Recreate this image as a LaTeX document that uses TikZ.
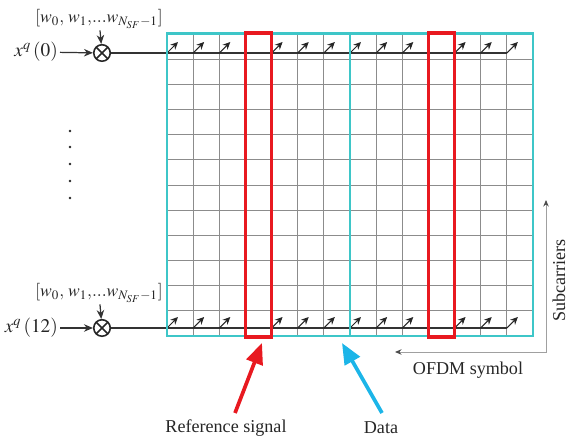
\documentclass[tikz,border=0pt]{standalone}
\usepackage{mathptmx}
\usepackage{fontspec}
\setmainfont{Liberation Serif}
\usetikzlibrary{arrows.meta}
\definecolor{turquoise}{HTML}{3EC6C8}
\definecolor{rouge}{HTML}{E81920}
\definecolor{ciel}{HTML}{1CB5E8}
\definecolor{gris}{HTML}{8C8C8C}
\definecolor{grisclair}{HTML}{A0A0A0}
\tikzset{
  grille/.style={draw=gris, line width=0.55pt},
  cadre/.style={draw=turquoise, line width=1.7pt},
  pilote/.style={draw=rouge, line width=1.8pt},
  trait/.style={draw=black!80, line width=0.7pt},
  fleche/.style={-{Stealth[length=1.8mm, width=1.5mm]}, line width=0.7pt, color=black!80},
  porteuse/.style={-{Stealth[length=1.5mm, width=1.4mm]}, line width=0.6pt, color=black!85},
  melangeur/.style={circle, draw=black!85, line width=0.9pt, minimum size=3.3mm,
    inner sep=0pt, path picture={\draw[line width=0.9pt]
      (path picture bounding box.north west) -- (path picture bounding box.south east)
      (path picture bounding box.north east) -- (path picture bounding box.south west);}},
  etiquette/.style={font=\fontsize{10.3}{12}\selectfont, color=black!85, inner sep=0pt},
  formule/.style={font=\fontsize{11}{13}\selectfont, color=black!85, inner sep=1pt},
  poids/.style={font=\fontsize{10}{12}\selectfont, color=black!85, inner sep=1pt},
  axe/.style={draw=grisclair, line width=0.5pt,
    {Stealth[length=1.3mm, width=1.1mm, color=black!70]}-{Stealth[length=1.3mm, width=1.1mm, color=black!70]}},
  grosse/.style={-{Triangle[length=4.2mm, width=3.4mm]}, line width=2.1pt}
}

\begin{document}
\begin{tikzpicture}[x=0.02cm, y=-0.02cm]
    \useasboundingbox (0,0) rectangle (568,438);

    % Grille temps-frequence
    \foreach \i in {1,...,13} { \draw[grille] ({167+\i*26.143},34) -- ({167+\i*26.143},336); }
    \foreach \j in {1,...,11} { \draw[grille] (167,{34+\j*25.167}) -- (533,{34+\j*25.167}); }

    % Entrees et melangeurs
    \node[melangeur] (m0) at (102,53) {};
    \node[melangeur] (m12) at (102,328) {};
    \node[formule, anchor=east] (x0) at (60,52) {$x^{q}\,(0)$};
    \node[formule, anchor=east] (x12) at (60,328) {$x^{q}\,(12)$};
    \node[poids] (w0) at (99,19) {$[w_{0},\,w_{1},\!...w_{N_{SF}-1}]$};
    \node[poids] (w12) at (99,293) {$[w_{0},\,w_{1},\!...w_{N_{SF}-1}]$};
    \draw[fleche] (x0) -- (m0);
    \draw[fleche] (x12) -- (m12);
    \draw[fleche] (w0) -- (m0);
    \draw[fleche] (w12) -- (m12);
    \coordinate (fin0) at (507,53);
    \coordinate (fin12) at (507,328);
    \draw[trait] (m0) -- (fin0);
    \draw[trait] (m12) -- (fin12);

    % Points de suspension
    \foreach \y in {131,147,164,181,198} { \fill[black!85] (70,\y) circle (1.4); }

    % Fleches des sous-porteuses
    \foreach \c in {0,1,2,4,5,6,7,8,9,11,12,13} {
      \draw[porteuse] ({167+\c*26.143},53) -- ++(11,-11);
      \draw[porteuse] ({167+\c*26.143},328) -- ++(11,-11);
    }

    % Cadres
    \draw[cadre] (167,34) rectangle (533,336);
    \draw[cadre] (350,34) -- (350,336);
    \draw[pilote] (245.4,33) rectangle (271.6,337);
    \draw[pilote] (428.4,33) rectangle (454.6,337);

    % Axes
    \coordinate (coin) at (546,352);
    \coordinate (gauche) at (395,352);
    \coordinate (haut) at (546,200);
    \draw[axe] (gauche) -- (coin) -- (haut);
    \node[etiquette] (ofdm) at (468,370) {OFDM symbol};
    \node[etiquette, rotate=90, anchor=west] (sp) at (559,322) {Subcarriers};

    % Legende
    \node[etiquette] (rs) at (226,428) {Reference signal};
    \node[etiquette] (data) at (381,428) {Data};
    \coordinate (depart rs) at (235,413);
    \coordinate (cible rs) at (262,343);
    \coordinate (depart data) at (382,413);
    \coordinate (cible data) at (342,343);
    \draw[grosse, rouge] (depart rs) -- (cible rs);
    \draw[grosse, ciel] (depart data) -- (cible data);
\end{tikzpicture}
\end{document}
